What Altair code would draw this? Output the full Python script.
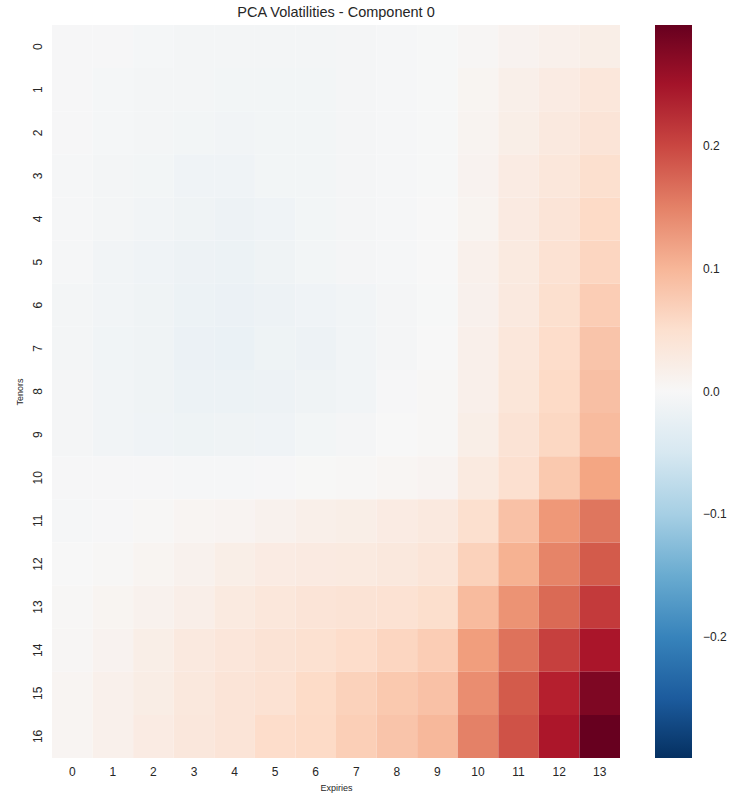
import altair as alt
import pandas as pd

expiries = list(range(14))
tenors = list(range(17))

# values per tenor row (columns = expiries 0..13)
tenor_00 = [-0.002, -0.002, -0.004, -0.006, -0.006, -0.006, -0.006, -0.005, -0.003, -0.001, 0.004, 0.010, 0.015, 0.020]
tenor_01 = [-0.002, -0.004, -0.006, -0.006, -0.008, -0.008, -0.008, -0.005, -0.003, -0.001, 0.007, 0.018, 0.025, 0.035]
tenor_02 = [-0.002, -0.004, -0.007, -0.008, -0.009, -0.008, -0.008, -0.005, -0.003, -0.001, 0.009, 0.020, 0.030, 0.040]
tenor_03 = [-0.003, -0.007, -0.008, -0.012, -0.012, -0.008, -0.008, -0.005, -0.003, -0.001, 0.010, 0.025, 0.035, 0.050]
tenor_04 = [-0.003, -0.007, -0.010, -0.013, -0.015, -0.012, -0.008, -0.005, -0.003, 0.000, 0.009, 0.027, 0.040, 0.060]
tenor_05 = [-0.003, -0.009, -0.012, -0.016, -0.017, -0.013, -0.008, -0.005, -0.003, 0.000, 0.015, 0.028, 0.045, 0.065]
tenor_06 = [-0.006, -0.010, -0.013, -0.018, -0.019, -0.015, -0.012, -0.010, -0.005, -0.001, 0.014, 0.030, 0.050, 0.075]
tenor_07 = [-0.006, -0.011, -0.013, -0.019, -0.020, -0.014, -0.015, -0.010, -0.005, 0.000, 0.016, 0.035, 0.055, 0.085]
tenor_08 = [-0.005, -0.009, -0.013, -0.017, -0.017, -0.015, -0.013, -0.010, -0.002, 0.002, 0.016, 0.037, 0.060, 0.090]
tenor_09 = [-0.005, -0.009, -0.012, -0.014, -0.013, -0.012, -0.008, -0.005, 0.000, 0.003, 0.020, 0.042, 0.063, 0.095]
tenor_10 = [-0.002, -0.002, -0.002, -0.003, -0.003, -0.002, 0.001, 0.003, 0.005, 0.008, 0.028, 0.048, 0.080, 0.118]
tenor_11 = [-0.003, -0.002, 0.003, 0.006, 0.008, 0.013, 0.017, 0.020, 0.025, 0.030, 0.050, 0.088, 0.130, 0.160]
tenor_12 = [0.000, 0.002, 0.007, 0.013, 0.020, 0.025, 0.027, 0.028, 0.032, 0.038, 0.070, 0.105, 0.148, 0.183]
tenor_13 = [0.003, 0.007, 0.013, 0.019, 0.028, 0.035, 0.040, 0.042, 0.045, 0.052, 0.095, 0.135, 0.170, 0.210]
tenor_14 = [0.004, 0.010, 0.020, 0.030, 0.036, 0.042, 0.047, 0.055, 0.065, 0.075, 0.125, 0.163, 0.205, 0.245]
tenor_15 = [0.006, 0.015, 0.022, 0.032, 0.040, 0.045, 0.058, 0.070, 0.080, 0.088, 0.140, 0.183, 0.233, 0.280]
tenor_16 = [0.006, 0.015, 0.025, 0.033, 0.040, 0.055, 0.060, 0.073, 0.085, 0.098, 0.150, 0.190, 0.243, 0.298]

rows = [tenor_00, tenor_01, tenor_02, tenor_03, tenor_04, tenor_05, tenor_06, tenor_07,
        tenor_08, tenor_09, tenor_10, tenor_11, tenor_12, tenor_13, tenor_14, tenor_15, tenor_16]

records = []
for t, row in zip(tenors, rows):
    for e, v in zip(expiries, row):
        records.append({"Tenors": t, "Expiries": e, "value": v})
df = pd.DataFrame(records)

vmax = 0.298
rdbu_r = ['#053061', '#2166ac', '#4393c3', '#92c5de', '#d1e5f0', '#f7f7f7',
          '#fddbc7', '#f4a582', '#d6604d', '#b2182b', '#67001f']
stops = [-vmax + i * (2 * vmax / 10) for i in range(11)]

FONT = "Liberation Sans"
TXT = "#262626"

chart = alt.Chart(df).mark_rect(strokeWidth=0).encode(
    x=alt.X("Expiries:O", sort=expiries,
            scale=alt.Scale(paddingInner=0, paddingOuter=0),
            axis=alt.Axis(labelAngle=0, ticks=False, domain=False, grid=False,
                          labelFontSize=12, labelColor=TXT, labelPadding=8,
                          titleFontSize=9, titleColor=TXT, titleFontWeight="normal",
                          titlePadding=6, labelFont=FONT, titleFont=FONT)),
    y=alt.Y("Tenors:O", sort=tenors,
            scale=alt.Scale(paddingInner=0, paddingOuter=0),
            axis=alt.Axis(labelAngle=270, ticks=False, domain=False, grid=False,
                          labelAlign="center", labelBaseline="alphabetic",
                          labelFontSize=12, labelColor=TXT, labelPadding=11,
                          titleFontSize=9, titleColor=TXT, titleFontWeight="normal",
                          titlePadding=7, labelFont=FONT, titleFont=FONT)),
    color=alt.Color("value:Q",
                    scale=alt.Scale(domain=stops, range=rdbu_r, interpolate="rgb"),
                    legend=alt.Legend(title=None, orient="none", legendX=603, legendY=0,
                                      direction="vertical",
                                      gradientLength=733, gradientThickness=37,
                                      gradientStrokeWidth=0,
                                      values=[-0.2, -0.1, 0.0, 0.1, 0.2],
                                      format=".1f",
                                      labelExpr="replace(datum.label, '-', '\u2212')",
                                      labelFontSize=12, labelColor=TXT, labelFont=FONT,
                                      labelOffset=11, tickCount=5)),
).properties(
    width=568, height=733,
    title=alt.TitleParams("PCA Volatilities - Component 0", fontSize=14.5, font=FONT,
                          color=TXT, fontWeight="normal", offset=5, anchor="middle"),
    autosize=alt.AutoSizeParams(type="none"),
    padding={"left": 52, "top": 25, "right": 109, "bottom": 40},
    background="white",
).configure_view(strokeWidth=0)

chart.save("out.html", embed_options={"renderer": "svg", "actions": False})
